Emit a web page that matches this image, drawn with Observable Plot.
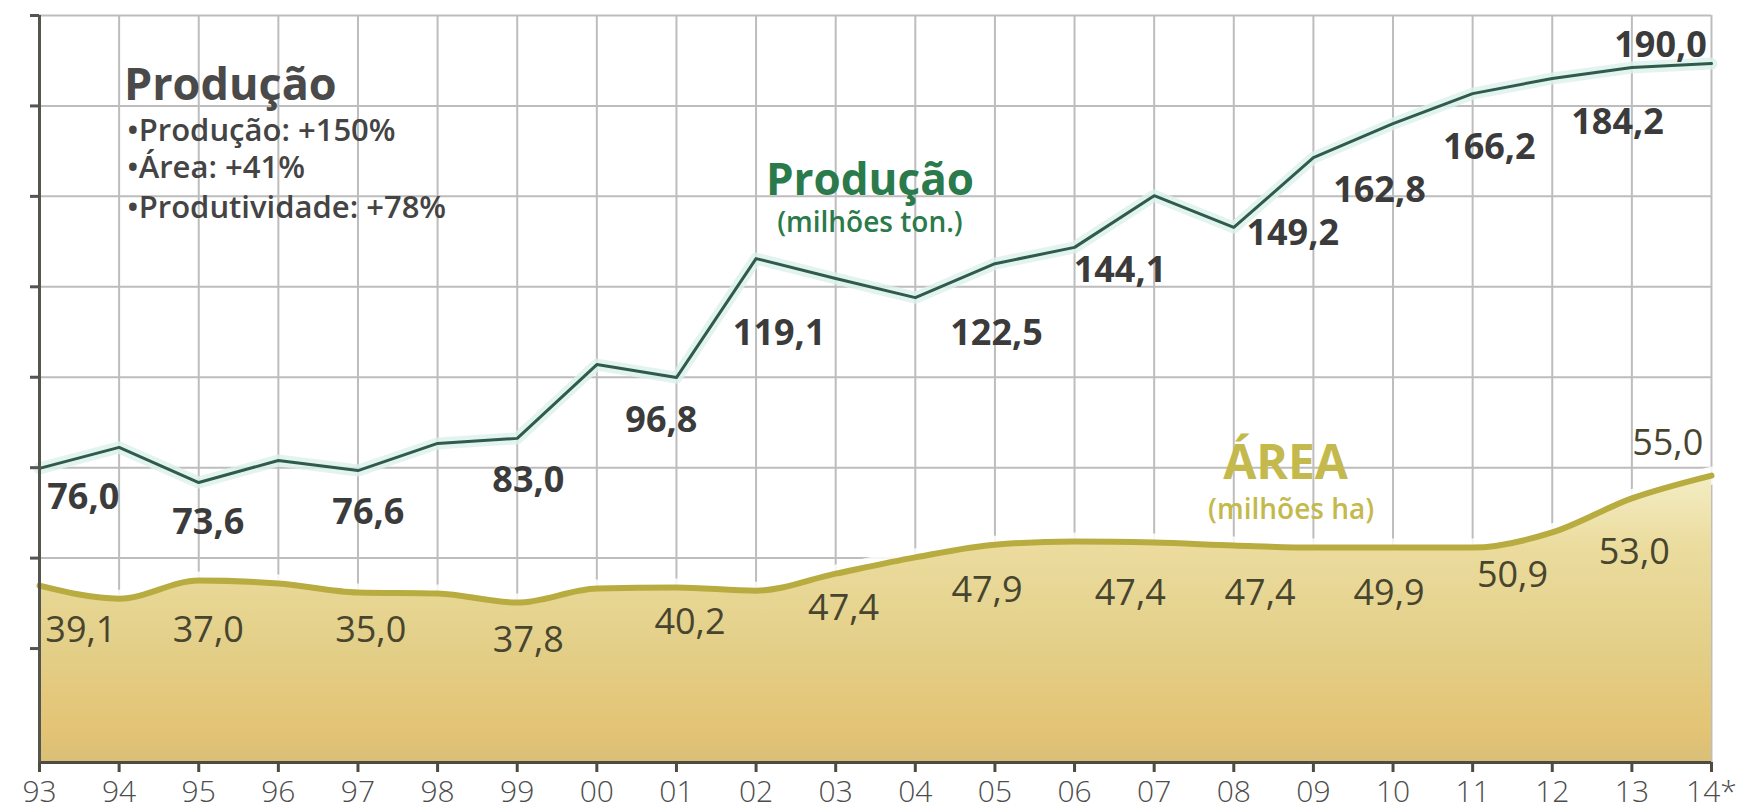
<!DOCTYPE html>
<html>
<head>
<meta charset="utf-8">
<script src="https://cdn.jsdelivr.net/npm/d3@7"></script>
<script src="https://cdn.jsdelivr.net/npm/@observablehq/plot@0.6"></script>
<style>
  html, body { margin: 0; padding: 0; background: #ffffff; }
  #chart { width: 1746px; height: 812px; overflow: hidden; }
</style>
</head>
<body>
<div id="chart"></div>
<script>
// ---- data ----
const years = ["93","94","95","96","97","98","99","00","01","02","03","04","05","06","07","08","09","10","11","12","13","14*"];
// production line (chart units)
const producao = [74.8, 80.6, 70.9, 77.0, 74.2, 81.7, 83.1, 103.5, 99.9, 132.8, 127.3, 122.0, 131.4, 135.9, 150.2, 141.4, 160.7, 170.1, 178.4, 182.6, 185.6, 186.7];
// area band (chart units)
const area = [42.4, 38.8, 43.8, 43.0, 40.5, 40.2, 37.7, 41.6, 41.9, 41.0, 45.7, 50.2, 53.7, 54.6, 54.3, 53.5, 52.9, 52.9, 52.9, 57.1, 66.5, 72.8];

// value annotations
const prodLabels = ["76,0","73,6","76,6","83,0","96,8","119,1","122,5","144,1","149,2","162,8","166,2","184,2","190,0"];
const prodLabelAt = [0.55, 2.12, 4.13, 6.14, 7.81, 9.29, 12.02, 13.57, 15.74, 16.83, 18.21, 19.82, 20.36];
const prodLabelLevel = [66.7, 59.8, 62.6, 71.4, 88.0, 112.1, 112.1, 129.5, 139.7, 151.6, 163.5, 170.4, 191.7];

const areaLabels = ["39,1","37,0","35,0","37,8","40,2","47,4","47,9","47,4","47,4","49,9","50,9","53,0","55,0"];
const areaLabelAt = [0.52, 2.12, 4.16, 6.14, 8.17, 10.1, 11.9, 13.7, 15.33, 16.95, 18.5, 20.03, 20.45];
const areaLabelLevel = [30.0, 30.0, 30.0, 27.2, 32.2, 36.1, 41.0, 40.2, 40.2, 40.2, 45.2, 51.5, 81.7];

const gridLevels = [25, 50, 75, 100, 125, 150, 175, 200];
const yBottom = -6.5;

const seriesTitles = [
  {t: "Produção", x: 10.43, y: 154.3, kind: "prodTitle"},
  {t: "(milhões ton.)", x: 10.43, y: 142.6, kind: "prodSub"},
  {t: "ÁREA", x: 15.65, y: 76.0, kind: "areaTitle"},
  {t: "(milhões ha)", x: 15.72, y: 63.4, kind: "areaSub"}
];

const resumoTitulo = "Produção";
const resumoItens = ["•Produção: +150%", "•Área: +41%", "•Produtividade: +78%"];
const resumoLevels = [168.0, 157.7, 146.9];

// ---- tables built from the arrays ----
const idx = years.map((_, i) => i);
const prodRows = producao.map((v, i) => ({i, v}));
const areaRows = area.map((v, i) => ({i, v}));
const prodLabelRows = prodLabels.map((t, k) => ({t, x: prodLabelAt[k], y: prodLabelLevel[k]}));
const areaLabelRows = areaLabels.map((t, k) => ({t, x: areaLabelAt[k], y: areaLabelLevel[k]}));
const resumoRows = resumoItens.map((t, k) => ({t, y: resumoLevels[k]}));

const FONT = "'Open Sans', 'DejaVu Sans', sans-serif";

const gradientDefs = () => {
  const defs = d3.create("svg:defs");
  const g = defs.append("linearGradient").attr("id", "areaFill")
    .attr("x1", 0).attr("x2", 0).attr("y1", 0).attr("y2", 1);
  [[0, "#f4edc4"], [0.25, "#ebdc9e"], [0.6, "#e3cf88"], [0.88, "#e4c475"], [1, "#d9bf78"]]
    .forEach(([o, c]) => g.append("stop").attr("offset", o).attr("stop-color", c));
  return defs.node();
};

const chart = Plot.plot({
  width: 1746,
  height: 812,
  marginLeft: 39,
  marginRight: 35,
  marginTop: 15,
  marginBottom: 50,
  style: {background: "#ffffff", fontFamily: FONT, overflow: "visible"},
  x: {domain: [0, years.length - 1]},
  y: {domain: [yBottom, 200]},
  marks: [
    gradientDefs,
    // grid
    Plot.ruleX(idx.slice(1), {stroke: "#bdbdbd", strokeWidth: 2}),
    Plot.ruleY(gridLevels, {stroke: "#bdbdbd", strokeWidth: 2}),
    // area
    Plot.line(areaRows, {x: "i", y: "v", stroke: "#ffffff", strokeWidth: 18, strokeOpacity: 0.85, curve: "monotone-x"}),
    Plot.areaY(areaRows, {x: "i", y1: yBottom, y2: "v", fill: "url(#areaFill)", curve: "monotone-x"}),
    Plot.line(areaRows, {x: "i", y: "v", stroke: "#b8ac40", strokeWidth: 6, curve: "monotone-x"}),
    // production
    Plot.line(prodRows, {x: "i", y: "v", stroke: "#dcf1ec", strokeWidth: 12, strokeOpacity: 0.8}),
    Plot.line(prodRows, {x: "i", y: "v", stroke: "#2f5b4b", strokeWidth: 3}),
    // axes
    Plot.ruleY([yBottom], {stroke: "#4e4c40", strokeWidth: 3}),
    Plot.ruleX([0], {stroke: "#55554f", strokeWidth: 3}),
    Plot.axisY({ticks: gridLevels, tickSize: 9, tickFormat: () => "", stroke: "#55554f", strokeWidth: 3, label: null}),
    Plot.axisX({ticks: idx, tickSize: 10, tickPadding: 8, tickFormat: i => years[i], fontSize: 30, fontWeight: 300,
      stroke: "#4e4c40", strokeWidth: 3, fill: "#4d4d4d", label: null}),
    // value labels
    Plot.text(prodLabelRows, {x: "x", y: "y", text: "t", fontSize: 36, fontWeight: 700, fill: "#3b3b3b"}),
    Plot.text(areaLabelRows, {x: "x", y: "y", text: "t", fontSize: 36, fontWeight: 400, fill: "#48452f"}),
    // series titles
    Plot.text(seriesTitles.filter(d => d.kind === "prodTitle"), {x: "x", y: "y", text: "t", fontSize: 44, fontWeight: 700, fill: "#2b7a4b"}),
    Plot.text(seriesTitles.filter(d => d.kind === "prodSub"), {x: "x", y: "y", text: "t", fontSize: 28, fontWeight: 600, fill: "#2b7a4b"}),
    Plot.text(seriesTitles.filter(d => d.kind === "areaTitle"), {x: "x", y: "y", text: "t", fontSize: 48, fontWeight: 700, fill: "#c4b94c"}),
    Plot.text(seriesTitles.filter(d => d.kind === "areaSub"), {x: "x", y: "y", text: "t", fontSize: 28, fontWeight: 600, fill: "#c4b94c"}),
    // summary box
    Plot.text([resumoTitulo], {x: 1.06, y: 180.6, text: d => d, textAnchor: "start", fontSize: 45, fontWeight: 700, fill: "#4a4a4a"}),
    Plot.text(resumoRows, {x: 1.1, y: "y", text: "t", textAnchor: "start", fontSize: 31, fontWeight: 600, fill: "#444444", ariaLabel: "resumo"})
  ]
});

// bold the numbers in the summary lines
d3.select(chart).selectAll('g[aria-label="resumo"] text').each(function() {
  const el = d3.select(this);
  const s = el.text();
  const k = s.indexOf(":");
  if (k < 0) return;
  el.text(null);
  el.append("tspan").text(s.slice(0, k + 2));
  el.append("tspan").attr("font-weight", 800).attr("fill", "#222").text(s.slice(k + 2));
});

document.getElementById("chart").append(chart);
</script>
</body>
</html>
